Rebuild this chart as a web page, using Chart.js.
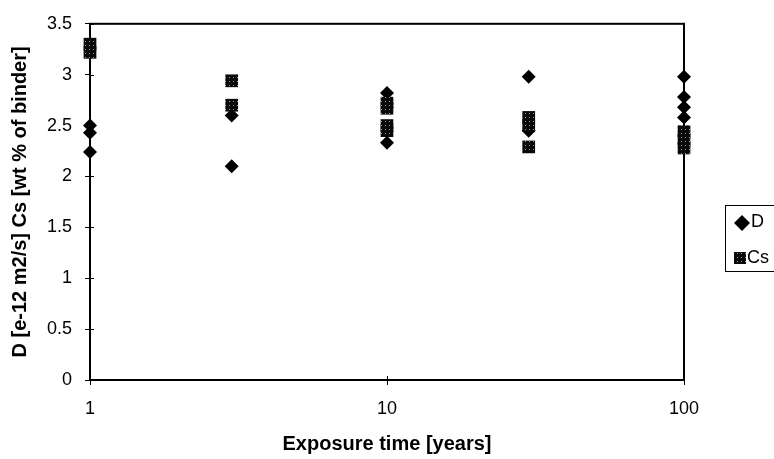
<!DOCTYPE html>
<html>
<head>
<meta charset="utf-8">
<script src="https://cdn.jsdelivr.net/npm/chart.js@4/dist/chart.umd.min.js"></script>
<style>
  html, body { margin: 0; padding: 0; background: #fff; }
  #wrap { width: 774px; height: 459px; }
</style>
</head>
<body>
<div id="wrap"><canvas id="chart" width="774" height="459"></canvas></div>
<script>
// exposure time [years] and values
const dYears = [1, 1, 1, 3, 3, 10, 10, 30, 30, 100, 100, 100, 100];
const dValues = [2.5, 2.43, 2.24, 2.6, 2.1, 2.82, 2.33, 2.98, 2.45, 2.98, 2.78, 2.68, 2.58];
const csYears = [1, 1, 3, 3, 10, 10, 10, 10, 30, 30, 30, 100, 100, 100];
const csValues = [3.3, 3.22, 2.94, 2.7, 2.72, 2.67, 2.5, 2.45, 2.58, 2.5, 2.29, 2.44, 2.36, 2.28];
const xTicks = [1, 10, 100];
const yTicks = [0, 0.5, 1, 1.5, 2, 2.5, 3, 3.5];

const FONT = '"Liberation Sans", Arial, sans-serif';

// speckled fill for the Cs squares
function speckle() {
  const c = document.createElement('canvas');
  c.width = 4; c.height = 4;
  const g = c.getContext('2d');
  g.fillStyle = '#0a0a0a';
  g.fillRect(0, 0, 4, 4);
  g.fillStyle = '#9a9a9a';
  g.fillRect(1, 1, 1, 1);
  return g.createPattern(c, 'repeat');
}
const csFill = speckle();

function toPoints(xs, ys) {
  return xs.map((x, i) => ({ x: x, y: ys[i] }));
}

// full box around the plot + tick marks crossing the axes
const frame = {
  id: 'frame',
  beforeDatasetsDraw(chart) {
    const { ctx, chartArea: a, scales } = chart;
    ctx.save();
    ctx.strokeStyle = '#000';
    ctx.lineWidth = 2;
    ctx.strokeRect(a.left, a.top, a.right - a.left, a.bottom - a.top);
    ctx.lineWidth = 1;
    ctx.beginPath();
    yTicks.forEach(v => {
      const y = Math.round(scales.y.getPixelForValue(v)) + 0.5;
      ctx.moveTo(a.left, y); ctx.lineTo(a.left + 4, y);
    });
    xTicks.forEach(v => {
      const x = Math.round(scales.x.getPixelForValue(v)) + 0.5;
      ctx.moveTo(x, a.bottom); ctx.lineTo(x, a.bottom - 4);
    });
    ctx.stroke();
    ctx.restore();
  }
};

// legend box to the right of the plot
const sideLegend = {
  id: 'sideLegend',
  afterDraw(chart) {
    const { ctx, chartArea: a } = chart;
    const bx = a.right + 41, by = 205;
    ctx.save();
    ctx.fillStyle = '#fff';
    ctx.fillRect(bx, by, 80, 66);
    ctx.strokeStyle = '#000';
    ctx.lineWidth = 1;
    ctx.strokeRect(bx + 0.5, by + 0.5, 80, 66);
    // diamond
    ctx.fillStyle = '#000';
    ctx.beginPath();
    ctx.moveTo(bx + 17, by + 10); ctx.lineTo(bx + 25, by + 18);
    ctx.lineTo(bx + 17, by + 26); ctx.lineTo(bx + 9, by + 18);
    ctx.closePath(); ctx.fill();
    // square
    ctx.fillStyle = csFill;
    ctx.fillRect(bx + 9, by + 47, 12, 12);
    ctx.fillStyle = '#000';
    ctx.font = '18px ' + FONT;
    ctx.textBaseline = 'middle';
    ctx.fillText('D', bx + 26, by + 17);
    ctx.fillText('Cs', bx + 22, by + 53);
    ctx.restore();
  }
};

new Chart(document.getElementById('chart'), {
  type: 'scatter',
  data: {
    datasets: [{
      label: 'D',
      data: toPoints(dYears, dValues),
      pointStyle: 'rectRot',
      pointRadius: 7,
      pointHoverRadius: 7,
      backgroundColor: '#000',
      borderColor: '#000',
      borderWidth: 0,
      clip: false,
      order: 2
    }, {
      label: 'Cs',
      data: toPoints(csYears, csValues),
      pointStyle: 'rect',
      pointRadius: 9,
      pointHoverRadius: 9,
      backgroundColor: csFill,
      borderColor: '#000',
      borderWidth: 0,
      clip: false,
      order: 1
    }]
  },
  options: {
    responsive: false,
    animation: false,
    layout: { padding: { top: 19, right: 90, left: 0, bottom: 0 } },
    plugins: {
      legend: { display: false },
      tooltip: { enabled: false }
    },
    scales: {
      x: {
        type: 'logarithmic',
        min: 1,
        max: 100,
        afterBuildTicks: s => { s.ticks = xTicks.map(v => ({ value: v })); },
        afterFit: s => { s.height = 79; },
        ticks: {
          color: '#000',
          font: { family: FONT, size: 18 },
          padding: 13,
          maxRotation: 0,
          callback: v => String(v)
        },
        grid: { drawOnChartArea: false, color: '#000', tickLength: 5 },
        border: { color: '#000', width: 2 },
        title: {
          display: true,
          text: 'Exposure time [years]',
          color: '#000',
          font: { family: FONT, size: 20, weight: 'bold' },
          padding: { top: 0, bottom: 3 }
        }
      },
      y: {
        min: 0,
        max: 3.5,
        afterBuildTicks: s => { s.ticks = yTicks.map(v => ({ value: v })); },
        afterFit: s => { s.width = 90; },
        ticks: {
          color: '#000',
          font: { family: FONT, size: 18 },
          padding: 13,
          callback: v => String(v)
        },
        grid: { drawOnChartArea: false, color: '#000', tickLength: 5 },
        border: { color: '#000', width: 2 },
        title: {
          display: true,
          text: 'D [e-12 m2/s] Cs [wt % of binder]',
          color: '#000',
          font: { family: FONT, size: 20, weight: 'bold' },
          padding: { top: 8, bottom: 0 }
        }
      }
    }
  },
  plugins: [frame, sideLegend]
});
</script>
</body>
</html>
